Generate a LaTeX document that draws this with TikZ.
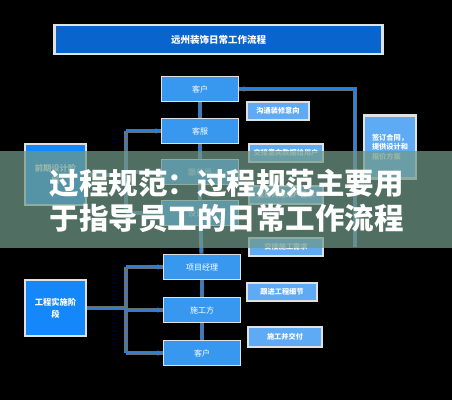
\documentclass[tikz,border=0pt]{standalone}
\usepackage{fontspec}
\newfontfamily\cjk{Noto Sans CJK SC}
\usetikzlibrary{arrows.meta}
\definecolor{cblue}{RGB}{56,152,240}
\definecolor{tblue}{RGB}{10,100,205}
\definecolor{lblue}{RGB}{95,170,245}
\definecolor{kblue}{RGB}{20,135,250}
\definecolor{lineblue}{RGB}{30,130,240}
\definecolor{bord}{RGB}{225,225,225}
\definecolor{shad}{RGB}{110,110,110}
\definecolor{band}{RGB}{111,153,136}
\begin{document}
\begin{tikzpicture}[x=1pt,y=-1pt,
  cbox/.style={draw=bord, line width=1.8pt, fill=cblue, text=white, font=\cjk\fontsize{8}{9}\selectfont, minimum width=77pt, minimum height=25pt, inner sep=0pt},
  lbox/.style={draw=bord, line width=2.4pt, fill=lblue, text=white, font=\cjk\bfseries\fontsize{7.2}{8.5}\selectfont, minimum height=18pt, inner sep=0pt},
  kbox/.style={draw=bord, line width=2pt, fill=kblue, text=white, font=\cjk\bfseries\fontsize{8.3}{12}\selectfont, minimum width=61pt, inner sep=0pt, align=center},
  sline/.style={draw=shad, line width=4pt},
  bline/.style={draw=lineblue, line width=1.6pt, dash pattern=on 3pt off 1pt, -{Latex[length=5pt,width=6pt]}},
  vline/.style={draw=lineblue, line width=1.6pt, {Latex[length=4pt,width=5pt]}-{Latex[length=4pt,width=5pt]}},
]
\useasboundingbox (0,0) rectangle (452,400);
\fill[black] (0,0) rectangle (452,400);

% title
\node[draw=bord, line width=2.6pt, fill=tblue, text=white, minimum width=328pt, minimum height=29pt, inner sep=0pt,
      font=\cjk\bfseries\fontsize{9.5}{11}\selectfont] (title) at (218.5,39.5) {远州装饰日常工作流程};

% central column
\node[cbox] (c1) at (200,89) {客户};
\node[cbox] (c2) at (200,131) {客服};
\node[cbox] (c3) at (200,172) {跟单员};
\node[cbox] (c4) at (200,213) {设计师};
\node[cbox] (c5) at (202,267) {项目经理};
\node[cbox] (c6) at (202,310) {施工方};
\node[cbox] (c7) at (202,353) {客户};

% right labels
\node[lbox, minimum width=62pt] (l1) at (278,111) {沟通装修意向};
\node[lbox, minimum width=74pt] (l2) at (286,153) {交接意向数据给用户};
\node[lbox, minimum width=74pt] (l3) at (286,195) {量房沟通用户需求};
\node[lbox, minimum width=74pt] (l4) at (286,247) {交接施工需求};
\node[lbox, minimum width=70pt] (l5) at (282,292) {跟进工程细节};
\node[lbox, minimum width=74pt, minimum height=20pt] (l6) at (285,337) {施工并交付};

% far right
\node[draw=bord, line width=2.4pt, fill=lblue, text=white, minimum width=52pt, minimum height=63pt, inner sep=0pt,
      font=\cjk\bfseries\fontsize{7.2}{9.5}\selectfont, align=left] (r1) at (390,147) {签订合同，\\提供设计和\\报价方案};

% left phase boxes
\node[kbox, minimum height=61pt] (k1) at (55.5,174.5) {前期设计阶\\段};
\node[kbox, minimum height=56pt] (k2) at (55.5,308) {工程实施阶\\段};

% vertical connectors
\foreach \a/\b in {c1/c2,c2/c3,c3/c4,c6/c7,c5/c6}{
  \draw[sline] (\a) -- (\b);
  \draw[vline] (\a) -- (\b);
}
\draw[sline] (c4) -- (c5);
\draw[draw=lineblue, line width=1.6pt, -{Latex[length=4pt,width=5pt]}] (c4) -- (c5);

% feedback line on the right
\coordinate (fe) at (355,247);
\draw[sline] (fe) |- (c1.east);
\draw[draw=lineblue, line width=1.6pt, -{Latex[length=5pt,width=6pt]}] (fe) |- (c1.east);

% upper bracket
\coordinate (ux) at (126,0);
\draw[sline] (c2.west -| ux) -- (c4.west -| ux);
\draw[sline] (k1.east) -- (k1.east -| ux);
\draw[draw=lineblue, line width=1.6pt, dash pattern=on 3pt off 1pt] (c2.west -| ux) -- (c4.west -| ux);
\draw[draw=lineblue, line width=1.6pt, dash pattern=on 3pt off 1pt] (k1.east) -- (k1.east -| ux);
\foreach \c in {c2,c3,c4}{
  \draw[sline] (\c.west -| ux) -- (\c.west);
  \draw[bline] (\c.west -| ux) -- (\c.west);
}

% lower bracket
\draw[sline] (c5.west -| ux) -- (c7.west -| ux);
\draw[sline] (k2.east) -- (k2.east -| ux);
\draw[draw=lineblue, line width=1.6pt, dash pattern=on 3pt off 1pt] (c5.west -| ux) -- (c7.west -| ux);
\draw[draw=lineblue, line width=1.6pt, dash pattern=on 3pt off 1pt] (k2.east) -- (k2.east -| ux);
\foreach \c in {c5,c6,c7}{
  \draw[sline] (\c.west -| ux) -- (\c.west);
  \draw[bline] (\c.west -| ux) -- (\c.west);
}

% overlay band with large text
\fill[band, opacity=0.72] (0,151) rectangle (452,248);
\node[text=white, font=\cjk\bfseries\fontsize{29.5}{35}\selectfont, align=center, inner sep=0pt] (big) at (226.5,201)
  {过程规范：过程规范主要用\\于指导员工的日常工作流程};
\end{tikzpicture}
\end{document}
